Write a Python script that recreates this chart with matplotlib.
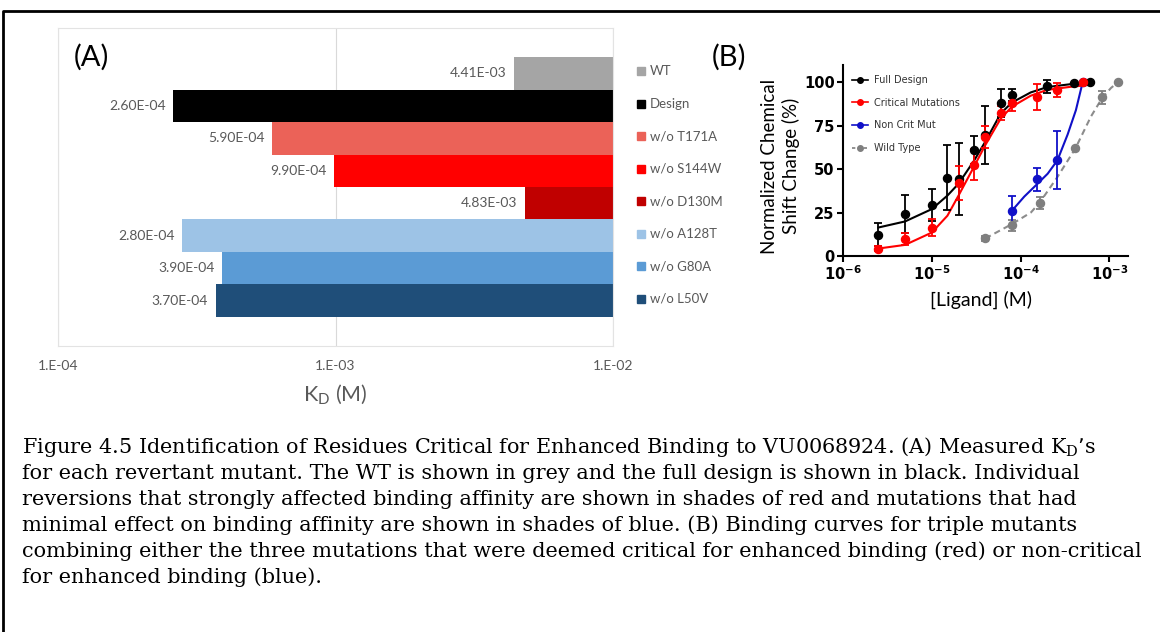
import matplotlib
matplotlib.use("Agg")
import matplotlib.pyplot as plt
import numpy as np
from matplotlib.lines import Line2D
from matplotlib.ticker import NullLocator
from matplotlib.transforms import blended_transform_factory

plt.rcParams['font.family'] = ['Lato', 'DejaVu Sans']

# ---------------- Panel A data ----------------
mutants = ["WT", "Design", "w/o T171A", "w/o S144W", "w/o D130M",
           "w/o A128T", "w/o G80A", "w/o L50V"]
kd_values = [4.41e-3, 2.60e-4, 5.90e-4, 9.90e-4, 4.83e-3, 2.80e-4, 3.90e-4, 3.70e-4]
bar_colors = ["#A5A5A5", "#000000", "#EB6258", "#FF0000", "#C00000",
              "#9DC3E6", "#5B9BD5", "#1F4E79"]
kd_ticks = [1e-4, 1e-3, 1e-2]
kd_tick_labels = ["1.E-04", "1.E-03", "1.E-02"]

# ---------------- Panel B data ----------------
fd_x = [2.5e-6, 5e-6, 1e-5, 1.5e-5, 2e-5, 3e-5, 4e-5, 6e-5, 8e-5, 2e-4, 4e-4, 6e-4]
fd_y = [12.2, 24.2, 29.6, 45.1, 44.5, 60.9, 69.6, 88.0, 92.8, 97.7, 99.6, 100.0]
fd_err = [6.6, 11.2, 9.2, 18.8, 20.7, 8.0, 16.9, 8.0, 3.5, 3.8, 0, 0]
fd_fit_x = [2.5e-6, 5e-6, 1e-5, 1.5e-5, 2e-5, 3e-5, 4e-5, 6e-5, 8e-5, 1.3e-4, 2e-4, 4e-4, 6e-4]
fd_fit_y = [16.4, 19.9, 27.0, 34.8, 41.6, 55.0, 65.8, 82.2, 88.4, 94.2, 97.3, 99.2, 99.6]

cm_x = [2.5e-6, 5e-6, 1e-5, 2e-5, 3e-5, 4e-5, 6e-5, 8e-5, 1.55e-4, 2.6e-4, 5e-4]
cm_y = [4.3, 9.7, 16.4, 42.0, 52.6, 68.3, 82.2, 88.0, 91.5, 95.7, 100.0]
cm_err = [1.5, 3.5, 4.8, 10.0, 9.0, 6.3, 4.0, 4.6, 7.6, 4.2, 0]
cm_fit_x = [2.5e-6, 5e-6, 1e-5, 1.5e-5, 2e-5, 3e-5, 4e-5, 6e-5, 8e-5, 1.3e-4, 2e-4, 4e-4, 5e-4]
cm_fit_y = [4.3, 6.4, 13.5, 23.2, 34.8, 51.6, 63.8, 79.3, 86.0, 92.3, 95.7, 97.7, 98.1]

nc_x = [8e-5, 1.55e-4, 2.6e-4, 5e-4]
nc_y = [26.1, 44.1, 55.5, 100.0]
nc_err = [8.4, 6.5, 16.7, 0]
nc_fit_x = [8e-5, 1.1e-4, 1.55e-4, 2.02e-4, 2.6e-4, 3.39e-4, 4.2e-4, 5e-4]
nc_fit_y = [26.1, 34.2, 41.6, 47.4, 55.1, 70.0, 84.0, 100.0]

wt_x = [4e-5, 8e-5, 1.65e-4, 4.1e-4, 8.3e-4, 1.24e-3]
wt_y = [10.1, 17.6, 30.6, 62.3, 91.3, 100.0]
wt_err = [1.5, 3.3, 3.5, 0, 3.6, 0]
wt_fit_x = [4e-5, 8e-5, 1.31e-4, 1.65e-4, 2.6e-4, 4.14e-4, 6.2e-4, 8.3e-4, 1.04e-3, 1.24e-3]
wt_fit_y = [10.1, 18.4, 25.1, 30.9, 45.5, 61.9, 80.3, 91.0, 96.7, 100.0]

series_labels = ["Full Design", "Critical Mutations", "Non Crit Mut", "Wild Type"]
lig_ticks = [1e-6, 1e-5, 1e-4, 1e-3]
lig_tick_labels = [r"$\mathregular{10^{-6}}$", r"$\mathregular{10^{-5}}$",
                   r"$\mathregular{10^{-4}}$", r"$\mathregular{10^{-3}}$"]
pct_ticks = [0, 25, 50, 75, 100]

caption_lines = [
    "Figure 4.5 Identification of Residues Critical for Enhanced Binding to VU0068924. (A) Measured K$_\\mathregular{D}$\u2019s",
    "for each revertant mutant. The WT is shown in grey and the full design is shown in black. Individual",
    "reversions that strongly affected binding affinity are shown in shades of red and mutations that had",
    "minimal effect on binding affinity are shown in shades of blue. (B) Binding curves for triple mutants",
    "combining either the three mutations that were deemed critical for enhanced binding (red) or non-critical",
    "for enhanced binding (blue).",
]

W, H = 1160, 632
fig = plt.figure(figsize=(W / 100, H / 100), dpi=100)
fig.patch.set_facecolor("white")


def px(x0, y0, x1, y1):
    return [x0 / W, 1 - y1 / H, (x1 - x0) / W, (y1 - y0) / H]


GRAY_TXT = "#595959"

# ---------------- Panel A ----------------
axA = fig.add_axes(px(58, 28, 613, 346))
axA.set_xscale("log")
axA.set_xlim(1e-4, 1e-2)
ypos = np.arange(len(mutants))
axA.set_ylim(len(mutants) - 0.5 + 0.9, -0.5 - 0.9)
axA.barh(ypos, [1e-2 - v for v in kd_values], left=kd_values, height=1.0,
         color=bar_colors, zorder=2)
for v, y in zip(kd_values, ypos):
    axA.annotate(f"{v:.2E}", (v, y), xytext=(-5.5, 0), textcoords="offset points",
                 ha="right", va="center", fontsize=10, color=GRAY_TXT)
axA.set_xticks(kd_ticks)
axA.set_xticklabels(kd_tick_labels)
axA.xaxis.set_minor_locator(NullLocator())
axA.set_yticks([])
axA.tick_params(axis="x", length=0, pad=10, labelsize=10, labelcolor=GRAY_TXT)
axA.grid(axis="x", which="major", color="#D9D9D9", lw=0.8)
axA.set_axisbelow(True)
for s in axA.spines.values():
    s.set_color("#E3E3E3")
    s.set_linewidth(0.8)

trans = blended_transform_factory(axA.transAxes, axA.transData)
for y, name, c in zip(ypos, mutants, bar_colors):
    axA.plot([1.0505], [y - 0.06], marker="s", ms=5.5, color=c, ls="none",
             transform=trans, clip_on=False)
    axA.text(1.066, y - 0.06, name, transform=trans, ha="left", va="center",
             fontsize=9.5, color=GRAY_TXT)

fig.text(74 / W, 1 - 57 / H, "(A)", fontsize=21, va="center", ha="left")
fig.text(335.5 / W, 1 - 395 / H, r"K$_\mathregular{D}$ (M)", fontsize=15.5,
         color=GRAY_TXT, ha="center", va="center")

# ---------------- Panel B ----------------
axB = fig.add_axes(px(843, 65, 1128, 256))
axB.set_xscale("log")
axB.set_xlim(1e-6, 10 ** -2.79)
axB.set_ylim(0, 110)
for s in ["top", "right"]:
    axB.spines[s].set_visible(False)
for s in ["left", "bottom"]:
    axB.spines[s].set_linewidth(1.5)

ekw = dict(fmt="o", ms=5.8, capsize=3, elinewidth=1.3, capthick=1.3, zorder=3)
axB.plot(wt_fit_x, wt_fit_y, color="#8C8C8C", lw=1.5, ls=(0, (3, 2)), zorder=2)
axB.errorbar(wt_x, wt_y, yerr=[wt_err, wt_err], color="#7F7F7F", **ekw)
axB.plot(nc_fit_x, nc_fit_y, color="#1010C8", lw=1.5, zorder=2)
axB.errorbar(nc_x, nc_y, yerr=[nc_err, nc_err], color="#1010C8", **ekw)
axB.plot(fd_fit_x, fd_fit_y, color="black", lw=1.5, zorder=2)
axB.errorbar(fd_x, fd_y, yerr=[fd_err, fd_err], color="black", **ekw)
axB.plot(cm_fit_x, cm_fit_y, color="#FF0000", lw=1.5, zorder=2)
axB.errorbar(cm_x, cm_y, yerr=[cm_err, cm_err], color="#FF0000", **ekw)

axB.set_xticks(lig_ticks)
axB.set_xticklabels(lig_tick_labels)
axB.xaxis.set_minor_locator(NullLocator())
axB.set_yticks(pct_ticks)
axB.tick_params(direction="out", length=4, width=1.5, labelsize=10.5, pad=2)
for lbl in axB.get_xticklabels() + axB.get_yticklabels():
    lbl.set_fontweight("bold")
    lbl.set_family(["DejaVu Sans"])

handles = [
    Line2D([], [], color="black", marker="o", ms=4, lw=1.2),
    Line2D([], [], color="#FF0000", marker="o", ms=4, lw=1.2),
    Line2D([], [], color="#1010C8", marker="o", ms=4, lw=1.2),
    Line2D([], [], color="#7F7F7F", marker="o", ms=4, lw=1.2, ls=(0, (2, 1.5))),
]
leg = axB.legend(handles, series_labels, loc="upper left",
                 bbox_to_anchor=(852 / W, 1 - 75 / H), bbox_transform=fig.transFigure,
                 frameon=False, handlelength=1.6, handletextpad=0.7,
                 labelspacing=1.3, borderpad=0, borderaxespad=0,
                 prop={"family": ["DejaVu Sans"], "size": 7})
for t in leg.get_texts():
    t.set_color("#333333")

axB.set_ylabel("Normalized Chemical\nShift Change (%)", fontsize=13.5, linespacing=1.25)
axB.yaxis.set_label_coords(-0.15, 0.47)
fig.text(981 / W, 1 - 300 / H, "[Ligand] (M)", fontsize=14, ha="center", va="center")
fig.text(712 / W, 1 - 57 / H, "(B)", fontsize=21, va="center", ha="left")

# ---------------- Caption ----------------
base0 = 453
for i, line in enumerate(caption_lines):
    fig.text(22 / W, 1 - (base0 + 26 * i) / H, line, fontsize=14.98,
             family=["DejaVu Serif"], va="baseline", ha="left")

# ---------------- Frame ----------------
fig.add_artist(Line2D([3 / W, 3 / W, 1.0], [0.0, 1 - 11 / H, 1 - 11 / H],
                      transform=fig.transFigure, color="black", lw=2.0))

fig.savefig("out.png", dpi=100)
